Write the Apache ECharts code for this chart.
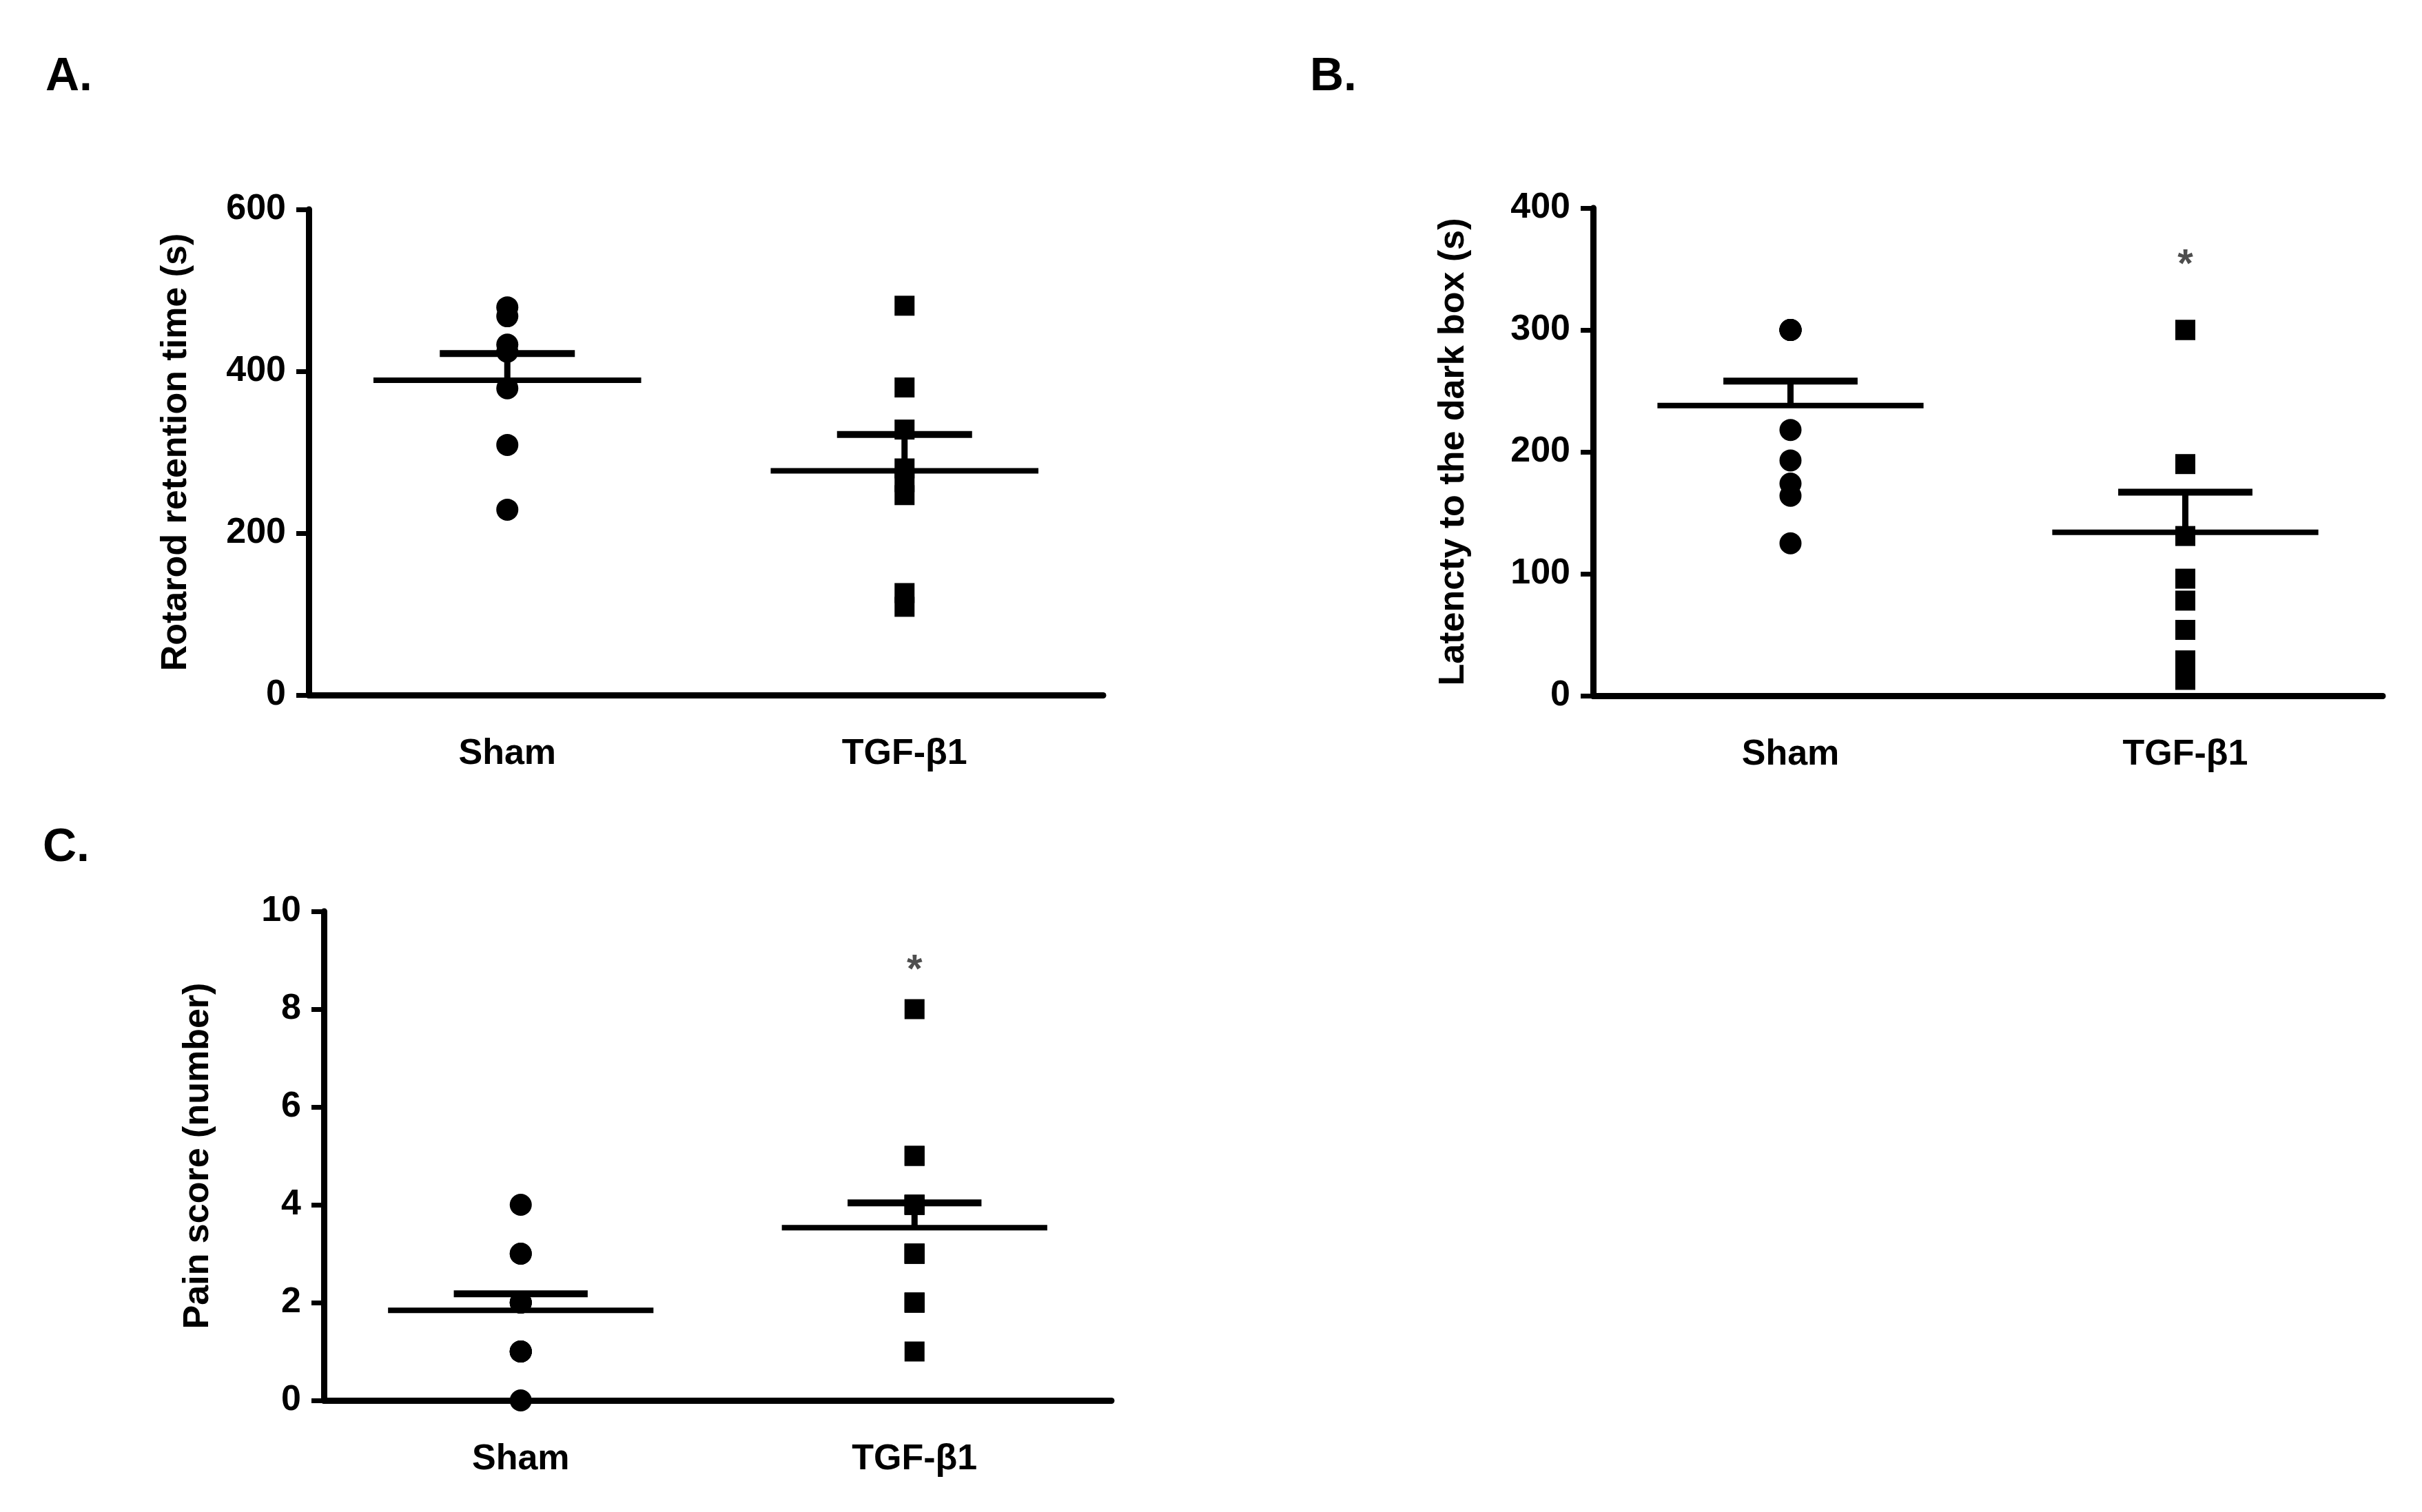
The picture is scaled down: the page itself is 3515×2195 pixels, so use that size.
<!DOCTYPE html>
<html>
<head>
<meta charset="utf-8">
<script src="https://cdn.jsdelivr.net/npm/echarts@6/dist/echarts.min.js"></script>
<style>
  html, body { margin: 0; padding: 0; background: #fff; }
  #main { width: 3515px; height: 2195px; }
</style>
</head>
<body>
<div id="main"></div>
<script>
// 组别
var groups = ['Sham', 'TGF-β1'];

// A. Rotarod
var rotarodSham = [479, 468, 433, 424, 379, 309, 229];
var rotarodTgf = [481, 380, 328, 280, 263, 247, 126, 109];
var rotarodMean = [389, 277];
var rotarodSem = [33, 45];
var rotarodTicks = [0, 600, 200];

// B. Latency to the dark box
var latencySham = [300, 300, 300, 300, 300, 218, 193, 174, 164, 125];
var latencyTgf = [300, 300, 190, 131, 96, 78, 54, 29, 13];
var latencyMean = [238, 134];
var latencySem = [20, 33];
var latencyTicks = [0, 400, 100];
var latencyStar = 358;

// C. Pain score
var painSham = [4, 3, 3, 2, 2, 2, 1, 1, 1, 1, 0];
var painTgf = [8, 5, 5, 4, 4, 4, 4, 3, 3, 3, 3, 2, 2, 2, 1];
var painMean = [1.84, 3.53];
var painSem = [0.34, 0.51];
var painTicks = [0, 10, 2];
var painStar = 8.92;

var FONT = "'Liberation Sans', Arial, sans-serif";

var myChart = echarts.init(document.getElementById('main'));

function points(idx, arr) {
  return arr.map(function (v) { return [idx, v]; });
}

function meanSem(mean, sem) {
  return mean.map(function (m, i) { return [i, m, sem[i]]; });
}

// 均值线 + SEM
function renderMean(params, api) {
  var x = api.value(0), m = api.value(1), s = api.value(2);
  var c = api.coord([x, m]);
  var top = api.coord([x, m + s]);
  var band = api.size([1, 0])[0];
  var st = { stroke: '#000', lineCap: 'butt' };
  return {
    type: 'group',
    children: [
      { type: 'line', shape: { x1: c[0] - band * 0.337, y1: c[1], x2: c[0] + band * 0.337, y2: c[1] },
        style: Object.assign({ lineWidth: 8 }, st) },
      { type: 'line', shape: { x1: c[0], y1: c[1], x2: c[0], y2: top[1] },
        style: Object.assign({ lineWidth: 9 }, st) },
      { type: 'line', shape: { x1: c[0] - band * 0.17, y1: top[1], x2: c[0] + band * 0.17, y2: top[1] },
        style: Object.assign({ lineWidth: 10 }, st) }
    ]
  };
}

function xAxisOf(gi) {
  return {
    type: 'category',
    gridIndex: gi,
    data: groups,
    axisLine: { lineStyle: { color: '#000', width: 9 } },
    axisTick: { alignWithLabel: true, length: 18, lineStyle: { color: '#000', width: 7 } },
    axisLabel: { color: '#000', fontSize: 52, fontWeight: 'bold', fontFamily: FONT, margin: 60 },
    splitLine: { show: false }
  };
}

function yAxisOf(gi, ticks, name, gap) {
  return {
    type: 'value',
    gridIndex: gi,
    min: ticks[0],
    max: ticks[1],
    interval: ticks[2],
    name: name,
    nameLocation: 'middle',
    nameGap: gap,
    nameTextStyle: { color: '#000', fontSize: 52, fontWeight: 'bold', fontFamily: FONT },
    axisLine: { show: true, lineStyle: { color: '#000', width: 9 } },
    axisTick: { show: true, length: 18, lineStyle: { color: '#000', width: 7 } },
    axisLabel: { color: '#000', fontSize: 52, fontWeight: 'bold', fontFamily: FONT, margin: 33 },
    splitLine: { show: false }
  };
}

function dots(gi, data, symbol, size) {
  return {
    type: 'scatter',
    xAxisIndex: gi,
    yAxisIndex: gi,
    symbol: symbol,
    symbolSize: size,
    itemStyle: { color: '#000', opacity: 1 },
    data: data,
    z: 3
  };
}

function star(gi, v) {
  return {
    type: 'scatter',
    xAxisIndex: gi,
    yAxisIndex: gi,
    symbolSize: 1,
    itemStyle: { color: 'rgba(0,0,0,0)' },
    label: { show: true, position: 'inside', formatter: '*', color: '#222', fontSize: 58, fontWeight: 'bold', fontFamily: FONT, offset: [0, 10] },
    data: [[1, v]],
    z: 4
  };
}

function meanSeries(gi, data) {
  return {
    type: 'custom',
    xAxisIndex: gi,
    yAxisIndex: gi,
    renderItem: renderMean,
    data: data,
    z: 2
  };
}

var option = {
  backgroundColor: '#fff',
  animation: false,
  textStyle: { fontFamily: FONT },
  graphic: [
    { type: 'text', left: 66, top: 78, style: { text: 'A.', font: 'bold 68px ' + FONT, fill: '#000' } },
    { type: 'text', left: 1901, top: 78, style: { text: 'B.', font: 'bold 68px ' + FONT, fill: '#000' } },
    { type: 'text', left: 62, top: 1197, style: { text: 'C.', font: 'bold 68px ' + FONT, fill: '#000' } }
  ],
  grid: [
    { left: 448, top: 304, width: 1153, height: 705 },
    { left: 2312, top: 302, width: 1146, height: 708 },
    { left: 470, top: 1323, width: 1143, height: 710 }
  ],
  xAxis: [xAxisOf(0), xAxisOf(1), xAxisOf(2)],
  yAxis: [
    yAxisOf(0, rotarodTicks, 'Rotarod retention time (s)', 166),
    yAxisOf(1, latencyTicks, 'Latencty to the dark box (s)', 176),
    yAxisOf(2, painTicks, 'Pain score (number)', 156)
  ],
  series: [
    meanSeries(0, meanSem(rotarodMean, rotarodSem)),
    dots(0, points(0, rotarodSham), 'circle', 32),
    dots(0, points(1, rotarodTgf), 'rect', 29),

    meanSeries(1, meanSem(latencyMean, latencySem)),
    dots(1, points(0, latencySham), 'circle', 32),
    dots(1, points(1, latencyTgf), 'rect', 29),
    star(1, latencyStar),

    meanSeries(2, meanSem(painMean, painSem)),
    dots(2, points(0, painSham), 'circle', 32),
    dots(2, points(1, painTgf), 'rect', 29),
    star(2, painStar)
  ]
};

myChart.setOption(option);

window.addEventListener('resize', function () {
  myChart.resize();
});
</script>
</body>
</html>
